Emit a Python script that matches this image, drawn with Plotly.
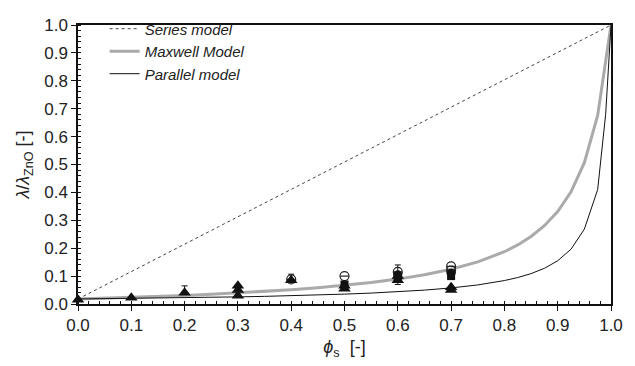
import plotly.graph_objects as go

# Model curves
phi_model = [0.0, 0.05, 0.1, 0.15, 0.2, 0.25, 0.3, 0.35, 0.4, 0.45, 0.5, 0.55, 0.6,
             0.65, 0.7, 0.75, 0.8, 0.825, 0.85, 0.875, 0.9, 0.925, 0.95, 0.975, 1.0]
maxwell = [0.018, 0.0207, 0.0237, 0.027, 0.0306, 0.0348, 0.0395, 0.0448, 0.051, 0.0582,
           0.0667, 0.0768, 0.0892, 0.1047, 0.1245, 0.1508, 0.1874, 0.2117, 0.2419, 0.2805,
           0.3316, 0.4023, 0.5066, 0.676, 1.0]
phi_par = [0.0, 0.05, 0.1, 0.15, 0.2, 0.25, 0.3, 0.35, 0.4, 0.45, 0.5, 0.55, 0.6,
           0.65, 0.7, 0.75, 0.8, 0.825, 0.85, 0.875, 0.9, 0.925, 0.95, 0.975, 0.99, 1.0]
parallel = [0.018, 0.0189, 0.02, 0.0211, 0.0224, 0.0239, 0.0255, 0.0274, 0.0296, 0.0323,
            0.0354, 0.0391, 0.0438, 0.0498, 0.0576, 0.0683, 0.084, 0.0948, 0.1089, 0.1279,
            0.1549, 0.1964, 0.2683, 0.41, 0.68, 1.0]
series_x = [0.0, 1.0]
series_y = [0.018, 1.0]

# Measured data
tri_x = [0.0, 0.1, 0.2, 0.3, 0.3, 0.3, 0.4, 0.5, 0.5, 0.6, 0.6, 0.7, 0.7]
tri_y = [0.015, 0.022, 0.04, 0.03, 0.05, 0.065, 0.085, 0.055, 0.065, 0.085, 0.10, 0.05, 0.06]
opc_x = [0.4, 0.5, 0.6, 0.7, 0.7]
opc_y = [0.088, 0.10, 0.115, 0.135, 0.12]
fc_x = [0.6, 0.6, 0.7]
fc_y = [0.095, 0.105, 0.11]
sq_x = [0.5, 0.6, 0.7]
sq_y = [0.07, 0.09, 0.10]
err_x = [0.2, 0.4, 0.6]
err_y = [0.04, 0.085, 0.10]
err_plus = [0.025, 0.022, 0.04]
err_minus = [0.0, 0.0, 0.03]

tick_vals = [i / 10 for i in range(11)]
tick_text = ["%.1f" % v for v in tick_vals]

FONT = "Liberation Sans"

fig = go.Figure()
fig.add_trace(go.Scatter(x=series_x, y=series_y, mode="lines", name="<i>Series model</i>",
                         line=dict(color="#444444", width=1, dash="dot")))
fig.add_trace(go.Scatter(x=phi_model, y=maxwell, mode="lines", name="<i>Maxwell Model</i>",
                         line=dict(color="#aaaaaa", width=3)))
fig.add_trace(go.Scatter(x=phi_par, y=parallel, mode="lines", name="<i>Parallel model</i>",
                         line=dict(color="#111111", width=1)))

fig.add_trace(go.Scatter(x=err_x, y=err_y, mode="markers", showlegend=False, cliponaxis=False,
                         marker=dict(size=1, color="rgba(0,0,0,0)"),
                         error_y=dict(type="data", symmetric=False, array=err_plus,
                                      arrayminus=err_minus, color="#111111", thickness=1, width=3)))
fig.add_trace(go.Scatter(x=opc_x, y=opc_y, mode="markers", showlegend=False, cliponaxis=False,
                         marker=dict(symbol="circle-open", size=9, color="#222222",
                                     line=dict(width=1.2))))
fig.add_trace(go.Scatter(x=opc_x, y=opc_y, mode="markers", showlegend=False, cliponaxis=False,
                         marker=dict(symbol="line-ew-open", size=6, color="#222222",
                                     line=dict(width=1.2))))
fig.add_trace(go.Scatter(x=sq_x, y=sq_y, mode="markers", showlegend=False, cliponaxis=False,
                         marker=dict(symbol="square", size=8, color="#111111")))
fig.add_trace(go.Scatter(x=fc_x, y=fc_y, mode="markers", showlegend=False, cliponaxis=False,
                         marker=dict(symbol="circle", size=9, color="#111111")))
fig.add_trace(go.Scatter(x=tri_x, y=tri_y, mode="markers", showlegend=False, cliponaxis=False,
                         marker=dict(symbol="triangle-up", size=11, color="#111111")))

axis_common = dict(
    range=[0, 1], tickvals=tick_vals, ticktext=tick_text,
    showline=True, linecolor="#111111", linewidth=1.5, mirror=True,
    ticks="outside", ticklen=5, tickwidth=1.2, tickcolor="#111111",
    showgrid=False, zeroline=False,
    tickfont=dict(family=FONT, size=17, color="#222222"),
    minor=dict(ticks="inside", ticklen=3, dtick=0.02, tickcolor="#111111", tickwidth=1),
)

fig.update_layout(
    width=635, height=366,
    margin=dict(l=78, r=13, t=12, b=61),
    paper_bgcolor="white", plot_bgcolor="white",
    font=dict(family=FONT, color="#222222"),
    xaxis=dict(**axis_common,
               title=dict(text="<i>ϕ</i><sub>s</sub>  [-]", font=dict(family=FONT, size=18), standoff=6)),
    yaxis=dict(**axis_common,
               title=dict(text="<i>λ</i>/<i>λ</i><sub>ZnO</sub> [-]", font=dict(family=FONT, size=18), standoff=10)),
    legend=dict(x=0.05, y=1.045, xanchor="left", yanchor="top",
                bgcolor="rgba(0,0,0,0)", font=dict(family=FONT, size=15, color="#222222"),
                tracegroupgap=5, itemwidth=30),
)

fig.write_html("out.html")
